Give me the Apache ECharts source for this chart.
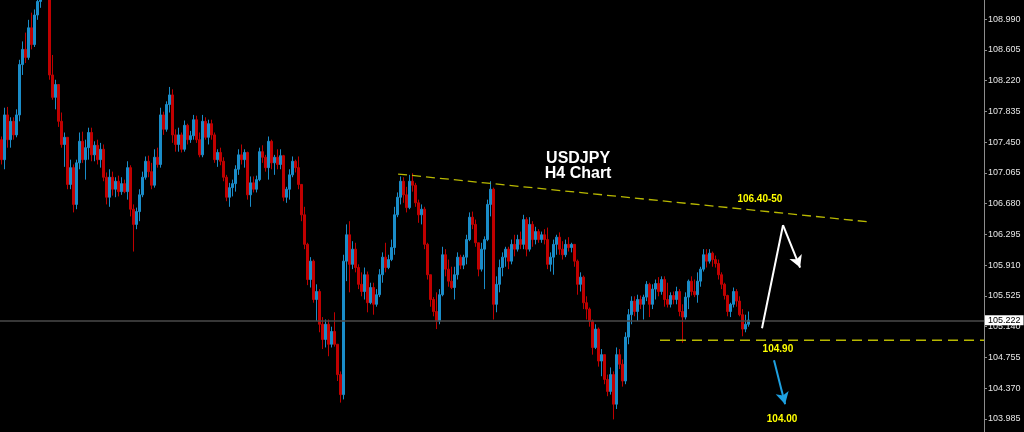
<!DOCTYPE html>
<html>
<head>
<meta charset="utf-8">
<style>html,body{margin:0;padding:0;background:#000;}#c{width:1024px;height:432px;}</style>
<script src="https://cdn.jsdelivr.net/npm/echarts@6/dist/echarts.min.js"></script>
</head>
<body>
<div id="c"></div>
<script>
// ---- data (prices) ----
// each bar: [open, close, low, high]
const ohlc = [
[107.48,107.23,107.17,107.52],[107.23,107.79,107.11,107.88],[107.79,107.48,107.38,107.89],[107.48,107.71,107.38,107.76],[107.71,107.54,107.48,107.76],
[107.54,107.79,107.51,107.86],[107.79,108.42,107.71,108.48],[108.42,108.61,108.29,108.71],[108.61,108.51,108.44,108.82],[108.51,108.88,108.48,108.98],
[108.88,108.67,108.61,109.07],[108.67,109.04,108.64,109.11],[109.04,109.21,108.98,109.29],[109.21,109.38,109.13,109.48],[109.38,109.50,109.27,109.61],
[109.50,109.31,109.26,109.58],[109.31,108.29,108.23,109.36],[108.29,108.01,107.98,108.54],[108.01,108.17,107.86,108.23],[108.17,107.71,107.64,108.17],
[107.71,107.42,107.38,107.82],[107.42,107.51,107.14,107.57],[107.51,106.92,106.86,107.51],[106.92,107.13,106.86,107.23],[107.13,106.67,106.57,107.17],
[106.67,107.19,106.61,107.23],[107.19,107.46,107.11,107.57],[107.46,107.23,107.19,107.58],[107.23,107.38,106.98,107.48],[107.38,107.57,107.23,107.63],
[107.57,107.29,107.21,107.63],[107.29,107.41,107.21,107.46],[107.41,107.23,107.17,107.48],[107.23,107.36,107.13,107.44],[107.36,107.01,106.96,107.42],
[107.01,106.76,106.67,107.07],[106.76,107.01,106.64,107.11],[107.01,106.86,106.78,107.08],[106.86,106.96,106.76,107.01],[106.96,106.83,106.77,107.03],
[106.83,106.93,106.79,107.01],[106.93,106.83,106.81,106.98],[106.83,107.13,106.73,107.21],[107.13,106.61,106.52,107.16],[106.61,106.42,106.08,106.67],
[106.42,106.58,106.36,106.63],[106.58,106.79,106.46,106.86],[106.79,107.01,106.76,107.08],[107.01,107.21,106.98,107.27],[107.21,107.08,107.01,107.28],
[107.08,106.91,106.86,107.19],[106.91,107.26,106.88,107.36],[107.26,107.17,107.13,107.38],[107.17,107.79,107.13,107.88],[107.79,107.61,107.54,107.83],
[107.61,107.92,107.58,107.96],[107.92,108.04,107.82,108.14],[108.04,107.54,107.44,108.11],[107.54,107.42,107.33,107.61],[107.42,107.54,107.33,107.63],
[107.54,107.36,107.32,107.57],[107.36,107.66,107.33,107.72],[107.66,107.48,107.42,107.68],[107.48,107.53,107.44,107.59],[107.53,107.73,107.48,107.79],
[107.73,107.48,107.44,107.78],[107.48,107.29,107.26,107.57],[107.29,107.71,107.26,107.79],[107.71,107.51,107.48,107.76],[107.51,107.68,107.42,107.73],
[107.68,107.54,107.48,107.73],[107.54,107.23,107.19,107.57],[107.23,107.32,107.14,107.36],[107.32,107.21,107.16,107.38],[107.21,107.01,106.96,107.26],
[107.01,106.76,106.71,107.04],[106.76,106.88,106.64,106.94],[106.88,106.93,106.77,106.98],[106.93,107.11,106.83,107.16],[107.11,107.29,107.04,107.36],
[107.29,107.23,107.17,107.42],[107.23,107.32,107.13,107.36],[107.32,106.79,106.73,107.33],[106.79,106.94,106.64,107.02],[106.94,106.86,106.82,107.02],
[106.86,106.98,106.82,107.03],[106.98,107.33,106.96,107.38],[107.33,107.26,107.19,107.41],[107.26,107.13,107.08,107.29],[107.13,107.46,106.98,107.52],
[107.46,107.19,107.11,107.48],[107.19,107.26,107.04,107.29],[107.26,107.17,107.11,107.36],[107.17,107.28,107.11,107.36],[107.28,106.76,106.71,107.29],
[106.76,106.86,106.69,106.89],[106.86,107.04,106.73,107.11],[107.04,107.21,107.01,107.27],[107.21,107.13,107.07,107.23],[107.13,106.92,106.86,107.27],
[106.92,106.54,106.46,106.92],[106.54,106.17,106.11,106.64],[106.17,105.73,105.66,106.19],[105.73,105.96,105.63,106.01],[105.96,105.48,105.44,105.98],
[105.48,105.58,105.21,105.67],[105.58,105.17,105.07,105.61],[105.17,104.98,104.86,105.26],[104.98,105.17,104.88,105.23],[105.17,104.92,104.77,105.23],
[104.92,105.08,104.88,105.14],[105.08,104.92,104.89,105.32],[104.92,104.54,104.46,104.92],[104.54,104.29,104.19,104.58],[104.29,105.96,104.23,106.04],
[105.96,106.29,105.71,106.42],[106.29,105.92,105.57,106.46],[105.92,106.11,105.86,106.21],[106.11,105.88,105.82,106.19],[105.88,105.67,105.61,105.92],
[105.67,105.58,105.52,105.82],[105.58,105.79,105.48,105.88],[105.79,105.44,105.32,105.83],[105.44,105.63,105.42,105.69],[105.63,105.42,105.29,105.69],
[105.42,105.54,105.39,105.61],[105.54,105.79,105.51,105.86],[105.79,106.01,105.69,106.07],[106.01,105.88,105.82,106.19],[105.88,105.98,105.86,106.04],
[105.98,106.13,105.96,106.23],[106.13,106.54,106.04,106.64],[106.54,106.76,106.51,106.82],[106.76,106.96,106.67,107.02],[106.96,106.79,106.69,107.01],
[106.79,106.63,106.57,106.89],[106.63,106.96,106.61,107.04],[106.96,106.91,106.83,107.06],[106.91,106.69,106.64,106.94],[106.69,106.54,106.44,106.73],
[106.54,106.61,106.42,106.67],[106.61,106.17,106.11,106.64],[106.17,105.79,105.73,106.19],[105.79,105.48,105.39,105.79],[105.48,105.33,105.27,105.51],
[105.33,105.21,105.11,105.57],[105.21,105.54,105.17,105.61],[105.54,106.04,105.52,106.14],[106.04,105.86,105.77,106.11],[105.86,105.71,105.64,105.98],
[105.71,105.63,105.61,105.89],[105.63,105.79,105.48,105.89],[105.79,106.01,105.73,106.07],[106.01,105.91,105.86,106.04],[105.91,106.01,105.86,106.04],
[106.01,106.23,105.92,106.29],[106.23,106.51,106.21,106.57],[106.51,106.42,106.36,106.58],[106.42,106.19,106.14,106.48],[106.19,105.86,105.77,106.19],
[105.86,106.11,105.83,106.19],[106.11,106.23,105.61,106.27],[106.23,106.67,106.21,106.73],[106.67,106.86,106.52,106.96],[106.86,105.42,105.23,106.88],
[105.42,105.67,105.32,105.77],[105.67,105.88,105.57,105.98],[105.88,106.01,105.77,106.07],[106.01,106.11,105.89,106.14],[106.11,105.96,105.86,106.14],
[105.96,106.17,105.92,106.23],[106.17,106.11,106.02,106.29],[106.11,106.23,106.08,106.29],[106.23,106.17,106.11,106.33],[106.17,106.48,106.11,106.54],
[106.48,106.11,106.02,106.51],[106.11,106.42,106.08,106.51],[106.42,106.23,106.14,106.46],[106.23,106.33,106.17,106.39],[106.33,106.23,106.19,106.36],
[106.23,106.29,106.19,106.33],[106.29,106.23,106.17,106.36],[106.23,105.92,105.86,106.38],[105.92,106.01,105.83,106.07],[106.01,106.17,105.79,106.23],
[106.17,106.26,106.04,106.29],[106.26,106.11,106.04,106.32],[106.11,106.04,105.98,106.21],[106.04,106.17,106.01,106.23],[106.17,106.13,106.08,106.26],
[106.13,106.17,106.07,106.19],[106.17,105.96,105.89,106.17],[105.96,105.67,105.54,105.98],[105.67,105.76,105.58,105.82],[105.76,105.44,105.36,105.78],
[105.44,105.36,105.23,105.52],[105.36,105.21,105.14,105.38],[105.21,104.88,104.79,105.23],[104.88,105.11,104.86,105.17],[105.11,104.71,104.64,105.13],
[104.71,104.79,104.52,104.86],[104.79,104.48,104.42,104.79],[104.48,104.33,104.27,104.54],[104.33,104.54,104.29,104.63],[104.54,104.17,103.98,104.58],
[104.17,104.79,104.11,104.88],[104.79,104.67,104.61,104.86],[104.67,104.46,104.39,104.73],[104.46,105.01,104.42,105.07],[105.01,105.29,104.92,105.36],
[105.29,105.46,105.17,105.52],[105.46,105.33,105.27,105.52],[105.33,105.48,105.21,105.54],[105.48,105.42,105.36,105.53],[105.42,105.51,105.23,105.54],
[105.51,105.67,105.46,105.71],[105.67,105.42,105.26,105.69],[105.42,105.61,105.36,105.67],[105.61,105.68,105.48,105.73],[105.68,105.58,105.52,105.76],
[105.58,105.73,105.54,105.77],[105.73,105.48,105.39,105.77],[105.48,105.42,105.38,105.69],[105.42,105.53,105.38,105.57],[105.53,105.48,105.42,105.58],
[105.48,105.58,105.42,105.64],[105.58,105.33,105.27,105.61],[105.33,105.26,104.94,105.42],[105.26,105.51,105.23,105.57],[105.51,105.71,105.36,105.73],
[105.71,105.58,105.53,105.77],[105.58,105.54,105.51,105.73],[105.54,105.71,105.44,105.82],[105.71,105.86,105.64,105.89],[105.86,106.04,105.83,106.11],
[106.04,105.96,105.88,106.11],[105.96,106.06,105.93,106.11],[106.06,105.98,105.89,106.08],[105.98,105.93,105.88,106.03],[105.93,105.79,105.73,105.98],
[105.79,105.67,105.61,105.82],[105.67,105.53,105.48,105.69],[105.53,105.33,105.27,105.54],[105.33,105.42,105.26,105.44],[105.42,105.58,105.38,105.63],
[105.58,105.46,105.39,105.61],[105.46,105.29,105.27,105.52],[105.29,105.11,105.02,105.36],[105.11,105.17,105.07,105.29],[105.17,105.222,105.14,105.33]
];
const slotCount = 328; // bars that fit in the visible window
const categories = Array.from({length: slotCount}, (_, i) => String(i + 1));
const tickLabels = [108.990,108.605,108.220,107.835,107.450,107.065,106.680,106.295,105.910,105.525,105.140,104.755,104.370,103.985];
const lastPrice = 105.222;
// annotations in [bar index, price]
const trendLine = [[132.7,107.05],[290,106.45]];
const supportLine = [[220,104.97],[328,104.97]];
const whiteArrow = [[254,105.12],[261,106.41],[266.7,105.88]];
const blueArrow = [[258,104.72],[261.7,104.17]];
const titleTexts = ['USDJPY','H4 Chart'];
const levelTexts = ['106.40-50','104.90','104.00'];

const chart = echarts.init(document.getElementById('c'), null, {renderer:'canvas'});
const yMin = 103.822, yMax = 109.228;
const yellowDash = {color:'#b8b800', width:1.3, type:[9,5]};
const titleStyle = {show:true, position:'inside', color:'#ffffff', fontSize:16, fontWeight:'bold', fontFamily:'Liberation Sans', formatter:'{b}', textBorderWidth:0};
const levelStyle = {show:true, position:'inside', color:'#ffff00', fontSize:10, fontWeight:'bold', fontFamily:'Liberation Sans', formatter:'{b}', textBorderWidth:0};

chart.setOption({
  backgroundColor:'#000000',
  animation:false,
  grid:{left:0, right:40, top:0, bottom:0, containLabel:false},
  xAxis:[
    {type:'category', data:categories, boundaryGap:true, show:false},
    {type:'value', min:0, max:slotCount, show:false}
  ],
  yAxis:{
    type:'value', position:'right', min:yMin, max:yMax, scale:true,
    axisLine:{show:true, onZero:false, lineStyle:{color:'#8c8c8c', width:1}},
    axisTick:{show:true, length:3, lineStyle:{color:'#8c8c8c'}, customValues:tickLabels},
    axisLabel:{show:true, color:'#e6e6e6', fontSize:9, fontFamily:'Liberation Sans', margin:4,
      customValues:tickLabels, formatter:v => v.toFixed(3)},
    splitLine:{show:false}
  },
  series:[
    {
      type:'candlestick', xAxisIndex:0, data:ohlc, barWidth:1.6, clip:true,
      itemStyle:{color:'#1a8cc8', color0:'#c00000', borderColor:'#1a8cc8', borderColor0:'#c00000', borderWidth:1},
      markLine:{
        silent:true, symbol:'none', animation:false,
        lineStyle:{color:'#4a4a4a', width:1.5, type:'solid'},
        label:{show:true, position:'end', distance:1, color:'#000', backgroundColor:'#ffffff', padding:[1,3,0,3],
          fontSize:9, fontFamily:'Liberation Sans', formatter: () => lastPrice.toFixed(3)},
        data:[{yAxis:lastPrice}]
      }
    },
    {type:'line', xAxisIndex:1, data:trendLine, symbol:'none', lineStyle:yellowDash, silent:true, z:3},
    {type:'line', xAxisIndex:1, data:supportLine, symbol:'none', lineStyle:{color:'#b8b800', width:1.3, type:[10,6]}, silent:true, z:3},
    {
      type:'line', xAxisIndex:1, data:[], silent:true, z:4,
      markLine:{
        silent:true, animation:false, symbolSize:[10,12],
        label:{show:false},
        data:[
          [{coord:whiteArrow[0], symbol:'none', lineStyle:{color:'#ffffff', width:2, type:'solid'}}, {coord:whiteArrow[1], symbol:'none'}],
          [{coord:whiteArrow[1], symbol:'none', lineStyle:{color:'#ffffff', width:2, type:'solid'}}, {coord:whiteArrow[2], symbol:'arrow'}],
          [{coord:blueArrow[0], symbol:'none', lineStyle:{color:'#1ea0e0', width:2, type:'solid'}}, {coord:blueArrow[1], symbol:'arrow'}]
        ]
      }
    },
    {
      type:'scatter', xAxisIndex:1, symbolSize:0, silent:true, z:5, itemStyle:{opacity:1},
      data:[
        {name:titleTexts[0], value:[192.7,107.24], label:titleStyle},
        {name:titleTexts[1], value:[192.7,107.055], label:titleStyle},
        {name:levelTexts[0], value:[253.3,106.73], label:levelStyle},
        {name:levelTexts[1], value:[259.3,104.855], label:levelStyle},
        {name:levelTexts[2], value:[260.7,103.98], label:levelStyle}
      ]
    }
  ]
});
</script>
</body>
</html>
